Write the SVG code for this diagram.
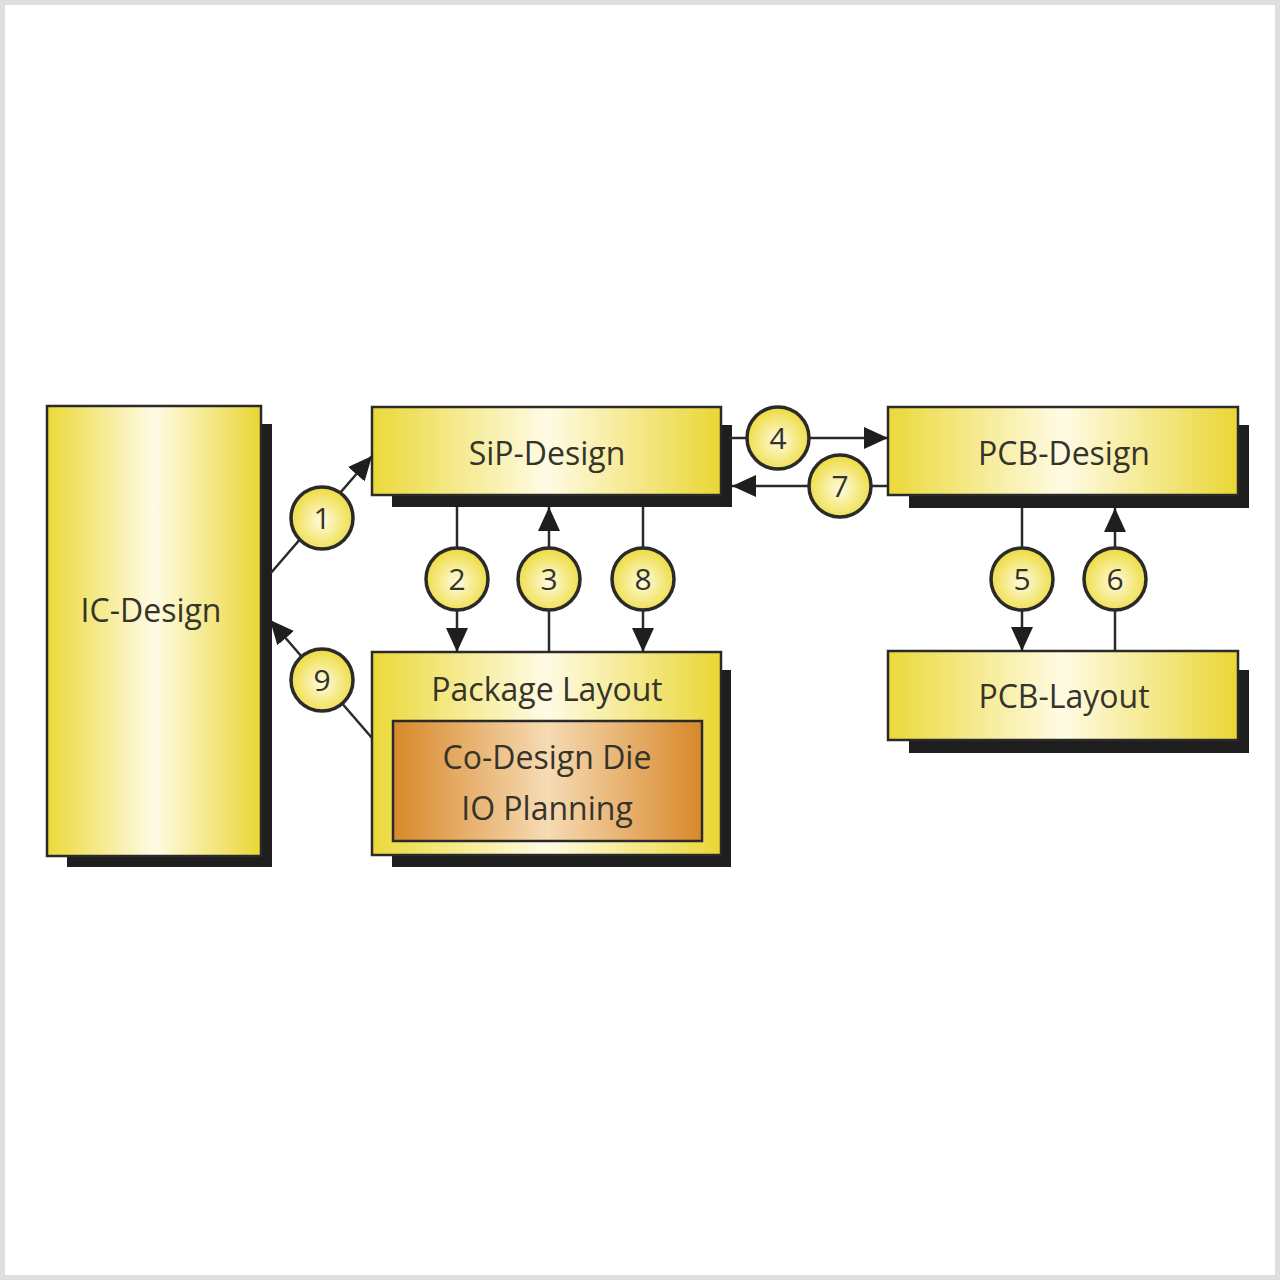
<svg xmlns="http://www.w3.org/2000/svg" width="1280" height="1280" viewBox="0 0 1280 1280">
<defs>
<linearGradient id="gy" x1="0" y1="0" x2="1" y2="0">
<stop offset="0" stop-color="#ebd939"/>
<stop offset="0.5" stop-color="#fffbe4"/>
<stop offset="1" stop-color="#ead635"/>
</linearGradient>
<linearGradient id="go" x1="0" y1="0" x2="1" y2="0">
<stop offset="0" stop-color="#d8882a"/>
<stop offset="0.5" stop-color="#f6dbb4"/>
<stop offset="1" stop-color="#d8882a"/>
</linearGradient>
<radialGradient id="gc" cx="0.5" cy="0.55" r="0.55">
<stop offset="0" stop-color="#fffbe0"/>
<stop offset="1" stop-color="#eddb3c"/>
</radialGradient>
<marker id="ah" viewBox="0 0 24 22" refX="24" refY="11" markerWidth="24" markerHeight="22" markerUnits="userSpaceOnUse" orient="auto">
<path d="M0,0 L24,11 L0,22 Z" fill="#1e1e1e"/>
</marker>
</defs>
<style>
.sh{fill:#1e1e1e}
.bx{fill:url(#gy);stroke:#2a2a2a;stroke-width:2.5}
.ib{fill:url(#go);stroke:#2a2a2a;stroke-width:2.5}
.t{font-family:"Open Sans","Noto Sans",sans-serif;font-size:32px;fill:#35342a;text-anchor:middle}
.c{fill:url(#gc);stroke:#2a2a2a;stroke-width:3.5}
.n{font-family:"Open Sans","Noto Sans",sans-serif;font-size:30px;fill:#35342a;text-anchor:middle}
.la{stroke:#2a2a2a;stroke-width:2.5;fill:none;marker-end:url(#ah)}
</style>
<rect x="0" y="0" width="1280" height="1280" fill="#ffffff"/>
<rect x="2.5" y="2.5" width="1275" height="1275" fill="none" stroke="#dedede" stroke-width="5"/>

<g id="ic-design">
<rect class="sh" x="67" y="424" width="205" height="443"/>
<rect class="bx" x="47" y="406" width="214" height="450"/>
<text class="t" x="151" y="622">IC-Design</text>
</g>

<g id="sip-design">
<rect class="sh" x="392" y="425" width="340" height="82"/>
<rect class="bx" x="372" y="407" width="349" height="88"/>
<text class="t" x="547" y="465">SiP-Design</text>
</g>

<g id="pcb-design">
<rect class="sh" x="909" y="425" width="340" height="83"/>
<rect class="bx" x="888" y="407" width="350" height="88"/>
<text class="t" x="1064" y="465">PCB-Design</text>
</g>

<g id="package-layout">
<rect class="sh" x="392" y="670" width="339" height="197"/>
<rect class="bx" x="372" y="652" width="349" height="203"/>
<text class="t" x="547" y="701">Package Layout</text>
<g id="co-design">
<rect class="ib" x="393" y="721" width="309" height="120"/>
<text class="t" x="547" y="769">Co-Design Die</text>
<text class="t" x="547" y="820">IO Planning</text>
</g>
</g>

<g id="pcb-layout">
<rect class="sh" x="909" y="670" width="340" height="83"/>
<rect class="bx" x="888" y="651" width="350" height="89"/>
<text class="t" x="1064" y="708">PCB-Layout</text>
</g>

<g id="connectors">
<line class="la" x1="270" y1="574" x2="372" y2="456"/>
<line class="la" x1="372" y1="738" x2="270" y2="620"/>
<line class="la" x1="457" y1="507" x2="457" y2="652"/>
<line class="la" x1="549" y1="652" x2="549" y2="507"/>
<line class="la" x1="643" y1="507" x2="643" y2="652"/>
<line class="la" x1="729" y1="438" x2="888" y2="438"/>
<line class="la" x1="888" y1="486" x2="732" y2="486"/>
<line class="la" x1="1022" y1="508" x2="1022" y2="651"/>
<line class="la" x1="1115" y1="651" x2="1115" y2="508"/>
</g>

<g id="badge-1"><circle class="c" cx="322" cy="518" r="31"/><text class="n" x="322" y="529">1</text></g>
<g id="badge-2"><circle class="c" cx="457" cy="579" r="31"/><text class="n" x="457" y="590">2</text></g>
<g id="badge-3"><circle class="c" cx="549" cy="579" r="31"/><text class="n" x="549" y="590">3</text></g>
<g id="badge-8"><circle class="c" cx="643" cy="579" r="31"/><text class="n" x="643" y="590">8</text></g>
<g id="badge-4"><circle class="c" cx="778" cy="438" r="31"/><text class="n" x="778" y="449">4</text></g>
<g id="badge-7"><circle class="c" cx="840" cy="486" r="31"/><text class="n" x="840" y="497">7</text></g>
<g id="badge-5"><circle class="c" cx="1022" cy="579" r="31"/><text class="n" x="1022" y="590">5</text></g>
<g id="badge-6"><circle class="c" cx="1115" cy="579" r="31"/><text class="n" x="1115" y="590">6</text></g>
<g id="badge-9"><circle class="c" cx="322" cy="680" r="31"/><text class="n" x="322" y="691">9</text></g>
</svg>
